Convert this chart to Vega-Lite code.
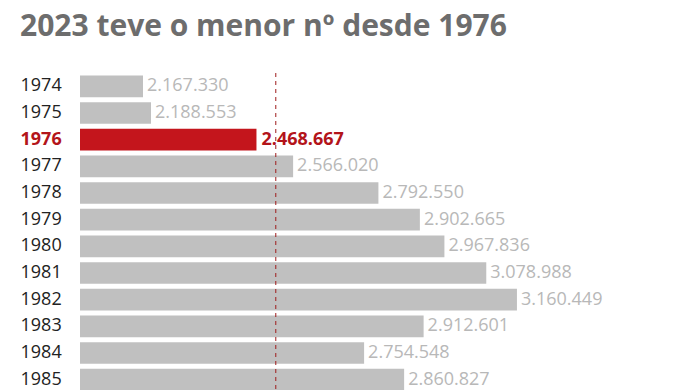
{
  "$schema": "https://vega.github.io/schema/vega-lite/v6.json",
  "autosize": {"type": "none"},
  "padding": {"left": 80, "top": 73, "right": 0, "bottom": 0},
  "width": 616,
  "height": 320,
  "background": "white",
  "title": {
    "text": "2023 teve o menor nº desde 1976",
    "anchor": "start",
    "frame": "group",
    "dx": -60,
    "offset": 31,
    "font": "Open Sans",
    "fontSize": 30,
    "fontWeight": "bold",
    "color": "#6d6d6d"
  },
  "datasets": {
    "anos": [
      {"ano": "1974", "valor": 2167330},
      {"ano": "1975", "valor": 2188553},
      {"ano": "1976", "valor": 2468667},
      {"ano": "1977", "valor": 2566020},
      {"ano": "1978", "valor": 2792550},
      {"ano": "1979", "valor": 2902665},
      {"ano": "1980", "valor": 2967836},
      {"ano": "1981", "valor": 3078988},
      {"ano": "1982", "valor": 3160449},
      {"ano": "1983", "valor": 2912601},
      {"ano": "1984", "valor": 2754548},
      {"ano": "1985", "valor": 2860827}
    ],
    "ref": [{"ref": 2520000}]
  },
  "layer": [
    {
      "data": {"name": "anos"},
      "mark": {"type": "bar"},
      "encoding": {
        "y": {
          "field": "ano",
          "type": "nominal",
          "sort": null,
          "scale": {"paddingInner": 0.19, "paddingOuter": 0.095},
          "axis": {
            "title": null,
            "domain": false,
            "ticks": false,
            "tickSize": 0,
            "labelAlign": "left",
            "labelPadding": 60,
            "labelFont": "Open Sans",
            "labelFontSize": 18,
            "labelColor": {"condition": {"test": "datum.value == '1976'", "value": "#b3141a"}, "value": "#222222"},
            "labelFontWeight": {"condition": {"test": "datum.value == '1976'", "value": "bold"}, "value": "normal"}
          }
        },
        "x": {
          "field": "valor",
          "type": "quantitative",
          "scale": {"domain": [2000000, 3636000], "zero": false, "nice": false},
          "axis": null
        },
        "x2": {"datum": 2000000},
        "color": {
          "condition": {"test": "datum.ano == '1976'", "value": "#c4151c"},
          "value": "#c0c0c0"
        }
      }
    },
    {
      "data": {"name": "anos"},
      "transform": [{"filter": "datum.ano != '1976'"}],
      "mark": {"type": "text", "align": "left", "baseline": "middle", "dx": 4, "font": "Open Sans", "fontSize": 18, "color": "#b8b8b8"},
      "encoding": {
        "y": {"field": "ano", "type": "nominal", "sort": null},
        "x": {"field": "valor", "type": "quantitative"},
        "text": {"field": "valor", "type": "quantitative", "format": ",d"}
      }
    },
    {
      "data": {"name": "anos"},
      "transform": [{"filter": "datum.ano == '1976'"}],
      "mark": {"type": "text", "align": "left", "baseline": "middle", "dx": 5, "font": "Open Sans", "fontSize": 18, "fontWeight": "bold", "color": "#b3141a"},
      "encoding": {
        "y": {"field": "ano", "type": "nominal", "sort": null},
        "x": {"field": "valor", "type": "quantitative"},
        "text": {"field": "valor", "type": "quantitative", "format": ",d"}
      }
    },
    {
      "data": {"name": "ref"},
      "mark": {"type": "rule", "color": "#9e1b1b", "strokeDash": [4, 4], "strokeWidth": 1},
      "encoding": {
        "x": {"field": "ref", "type": "quantitative"}
      }
    }
  ],
  "config": {
    "view": {"stroke": null},
    "locale": {
      "number": {"decimal": ",", "thousands": ".", "grouping": [3], "currency": ["R$", ""]}
    }
  }
}
